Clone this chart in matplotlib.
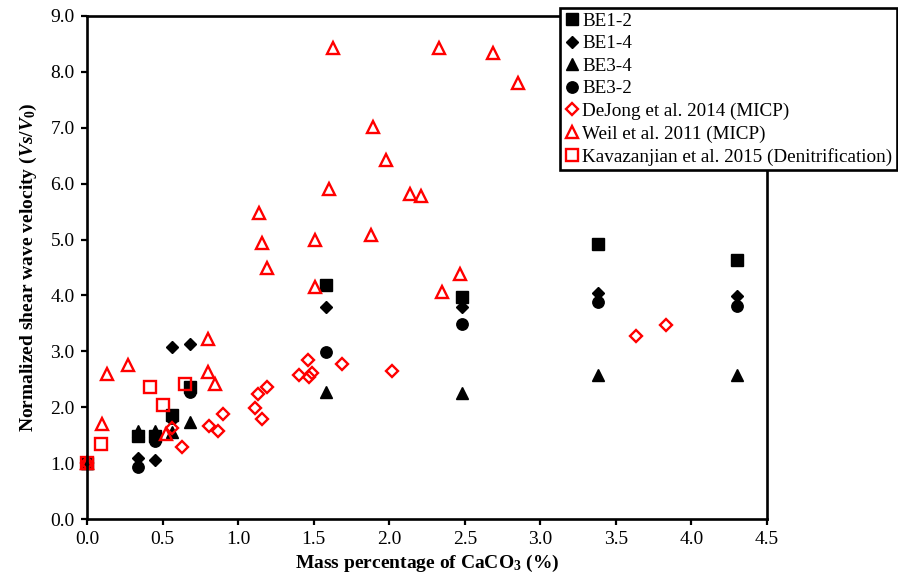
import matplotlib
matplotlib.use("Agg")
import matplotlib.pyplot as plt
from matplotlib.ticker import MultipleLocator, FormatStrFormatter

plt.rcParams['font.family'] = ['Liberation Serif', 'DejaVu Serif']
plt.rcParams['mathtext.fontset'] = 'custom'
plt.rcParams['mathtext.rm'] = 'Liberation Serif:bold'
plt.rcParams['mathtext.it'] = 'Liberation Serif:bold:italic'
plt.rcParams['mathtext.bf'] = 'Liberation Serif:bold'

# Bender-element measurements (this study)
x_be = [0.0, 0.34, 0.45, 0.56, 0.68, 1.58, 2.48, 3.38, 4.30]
be1_2 = [1.0, 1.48, 1.48, 1.86, 2.36, 4.19, 3.97, 4.92, 4.63]
be1_4 = [1.0, 1.09, 1.06, 3.08, 3.13, 3.79, 3.79, 4.04, 3.99]
be3_4 = [1.0, 1.58, 1.58, 1.56, 1.74, 2.27, 2.25, 2.58, 2.58]
be3_2 = [1.0, 0.93, 1.40, 1.80, 2.27, 2.99, 3.49, 3.88, 3.81]

# Literature data
dejong_x = [0.0, 0.56, 0.63, 0.81, 0.87, 0.90, 1.11, 1.13, 1.16, 1.19,
            1.40, 1.46, 1.47, 1.49, 1.69, 2.02, 3.63, 3.83]
dejong_y = [1.0, 1.63, 1.29, 1.66, 1.57, 1.88, 1.98, 2.24, 1.79, 2.36,
            2.58, 2.84, 2.54, 2.61, 2.77, 2.65, 3.27, 3.47]

weil_x = [0.0, 0.10, 0.13, 0.27, 0.52, 0.80, 0.80, 0.85, 1.14, 1.16, 1.19,
          1.51, 1.51, 1.60, 1.63, 1.88, 1.89, 1.98, 2.14, 2.21, 2.33, 2.35,
          2.47, 2.69, 2.85]
weil_y = [1.0, 1.70, 2.59, 2.75, 1.52, 3.22, 2.63, 2.42, 5.47, 4.94, 4.49,
          4.15, 4.99, 5.90, 8.43, 5.08, 7.01, 6.42, 5.81, 5.78, 8.43, 4.06,
          4.38, 8.33, 7.80]

kav_x = [0.0, 0.09, 0.42, 0.50, 0.65]
kav_y = [1.0, 1.34, 2.36, 2.04, 2.41]

fig = plt.figure(figsize=(8.98, 5.80), dpi=100)
ax = fig.add_axes([87 / 898, 1 - 519 / 580, 680 / 898, 503 / 580])

red = '#ff0000'
common = dict(linestyle='none', clip_on=False)
ax.plot(x_be, be1_2, marker='s', ms=8.6, color='black', label='BE1-2', **common)
ax.plot(x_be, be1_4, marker='D', ms=5.8, color='black', label='BE1-4', **common)
ax.plot(x_be, be3_4, marker='^', ms=8.6, color='black', label='BE3-4', **common)
ax.plot(x_be, be3_2, marker='o', ms=8.2, color='black', label='BE3-2', **common)
ax.plot(dejong_x, dejong_y, marker='D', ms=6.4, mfc='none', mec=red, mew=1.7,
        label='DeJong et al. 2014 (MICP)', **common)
ax.plot(weil_x, weil_y, marker='^', ms=8.0, mfc='none', mec=red, mew=1.7,
        label='Weil et al. 2011 (MICP)', **common)
ax.plot(kav_x, kav_y, marker='s', ms=8.6, mfc='none', mec=red, mew=1.7,
        label='Kavazanjian et al. 2015 (Denitrification)', **common)

ax.set_xlim(0, 4.5)
ax.set_ylim(0, 9)
ax.xaxis.set_major_locator(MultipleLocator(0.5))
ax.yaxis.set_major_locator(MultipleLocator(1.0))
ax.xaxis.set_major_formatter(FormatStrFormatter('%.1f'))
ax.yaxis.set_major_formatter(FormatStrFormatter('%.1f'))
ax.tick_params(direction='out', length=4, width=1.6, labelsize=14, pad=5)
for sp in ax.spines.values():
    sp.set_linewidth(1.9)

ax.set_xlabel('Mass percentage of CaCO$_3$ (%)', fontsize=14, fontweight='bold',
              labelpad=3)
ax.set_ylabel(r'Normalized shear wave velocity ($\mathit{Vs/V_0}$)', fontsize=14,
              fontweight='bold', labelpad=8)

leg = fig.legend(loc='upper left', bbox_to_anchor=(560 / 898, 1 - 8 / 580),
                 fontsize=13.8, frameon=True, fancybox=False, edgecolor='black',
                 framealpha=1, handlelength=0.8, handletextpad=0.15,
                 labelspacing=0.27, borderpad=0.22, borderaxespad=0,
                 numpoints=1)
leg.get_frame().set_linewidth(1.9)

fig.savefig('out.png', dpi=100)
